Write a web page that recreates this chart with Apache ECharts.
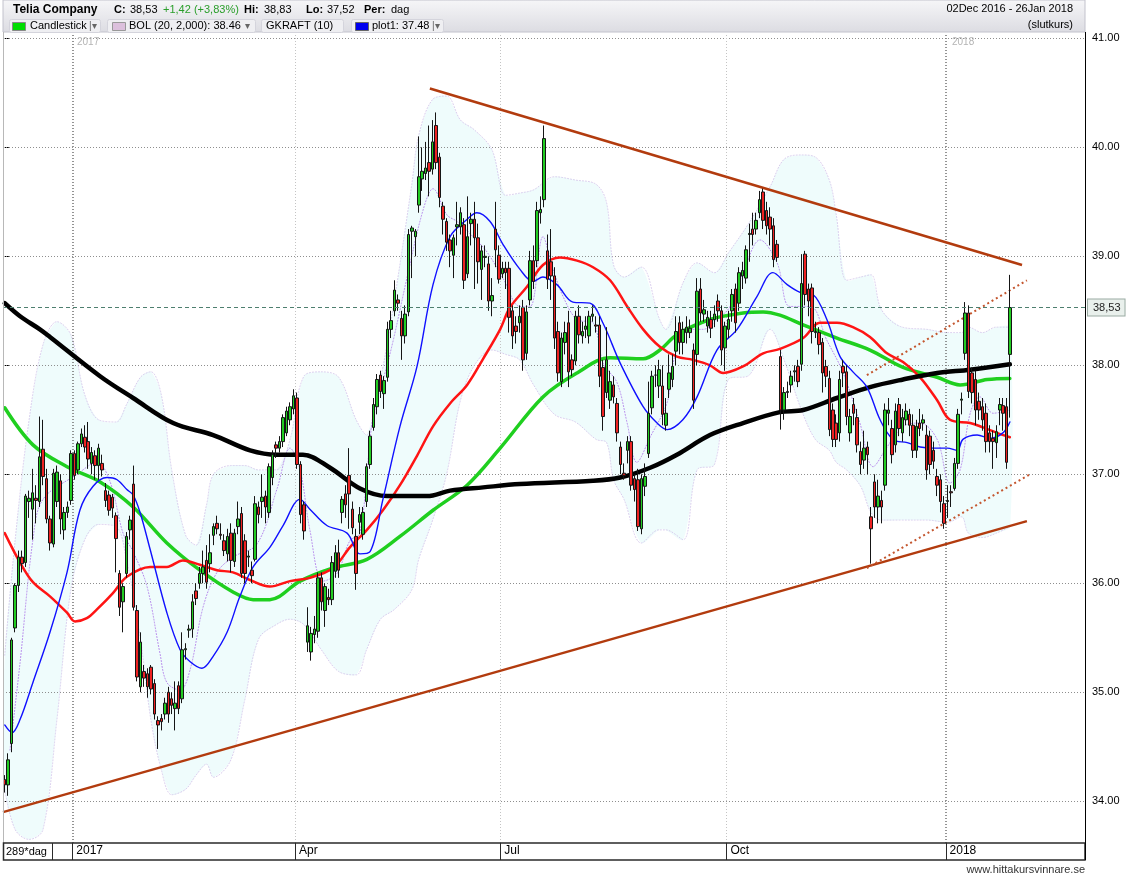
<!DOCTYPE html>
<html><head><meta charset="utf-8">
<script src="https://cdn.jsdelivr.net/npm/echarts@6/dist/echarts.min.js"></script>
<style>html,body{margin:0;padding:0;background:#fff}#c{width:1130px;height:874px}</style>
</head><body><div id="c"></div>
<script>
// ---- data ----
const nSlots = 311;                       // trading-day slots on the time axis (290 used)
const monthStarts = [20, 84, 143, 208, 271];
const monthLabels = ['2017', 'Apr', 'Jul', 'Oct', '2018'];
const yTicks = [34, 35, 36, 37, 38, 39, 40, 41];
const lastClose = 38.53;

// [open, close, low, high] per trading day, 02 Dec 2016 .. 26 Jan 2018
const ohlc = [
[34.20,34.15,34.08,34.24],[34.15,34.38,34.05,34.44],[34.53,35.48,34.45,35.50],[35.59,35.98,35.55,36.00],[35.98,36.24,35.92,36.30],
[36.24,36.18,36.10,36.30],[36.19,36.80,36.15,36.82],[36.75,36.78,36.60,36.85],[36.68,36.83,36.40,37.05],[36.78,36.76,36.55,36.90],
[36.75,37.16,36.70,37.53],[37.23,36.98,36.90,37.50],[36.96,36.59,36.55,37.05],[36.59,36.37,36.30,36.62],[36.36,37.01,36.33,37.05],
[36.75,37.02,36.70,37.08],[36.94,36.59,36.45,37.00],[36.49,36.65,36.40,36.70],[36.65,36.70,36.60,36.75],[36.76,37.19,36.72,37.22],
[37.19,36.99,36.95,37.22],[37.04,37.28,37.00,37.30],[37.28,37.37,37.25,37.42],[37.34,37.25,37.20,37.45],[37.30,37.14,37.05,37.48],
[37.10,37.20,37.00,37.25],[37.17,37.08,36.95,37.22],[37.08,37.24,36.95,37.28],[37.10,37.04,36.98,37.18],[36.85,36.76,36.70,36.92],
[36.81,36.67,36.62,36.85],[36.79,36.69,36.60,36.82],[36.62,36.41,36.10,36.65],[36.09,35.78,35.70,36.12],[35.83,35.97,35.55,36.00],
[36.09,36.43,36.05,36.47],[36.49,36.58,36.40,36.62],[36.91,35.78,35.75,37.08],[35.75,35.14,35.10,35.80],[35.05,35.46,35.00,35.55],
[35.19,35.13,35.05,35.25],[35.17,35.05,34.95,35.22],[35.23,35.03,34.98,35.25],[35.08,34.80,34.75,35.12],[34.74,34.70,34.48,34.78],
[34.76,34.73,34.65,34.80],[34.80,34.90,34.75,34.95],[35.00,34.80,34.72,35.05],[34.94,34.88,34.80,35.00],[34.85,34.90,34.65,35.10],
[35.06,34.85,34.80,35.10],[34.94,35.39,34.90,35.55],[35.39,35.40,35.30,35.45],[35.57,35.58,35.50,35.62],[35.58,35.83,35.50,35.90],
[35.93,35.86,35.80,36.00],[36.00,36.09,35.95,36.15],[36.09,36.15,36.00,36.30],[36.21,36.01,35.95,36.35],[36.18,36.28,36.10,36.45],
[36.44,36.52,36.35,36.55],[36.55,36.50,36.45,36.62],[36.45,36.44,36.40,36.55],[36.39,36.30,36.25,36.45],[36.27,36.43,36.20,36.50],
[36.46,36.21,36.10,36.55],[36.20,36.46,36.15,36.50],[36.52,36.59,36.45,36.75],[36.64,36.09,36.05,36.70],[36.39,36.09,36.00,36.45],
[36.24,36.25,36.15,36.30],[36.12,36.07,36.00,36.20],[36.22,36.73,36.20,36.80],[36.70,36.63,36.55,36.75],[36.75,36.79,36.60,37.00],
[36.80,36.70,36.55,36.85],[36.65,37.07,36.60,37.10],[36.97,37.18,36.90,37.22],[37.27,37.24,37.15,37.30],[37.24,37.30,37.20,37.35],
[37.30,37.52,37.25,37.55],[37.38,37.58,37.35,37.62],[37.50,37.62,37.45,37.66],[37.60,37.72,37.55,37.78],[37.70,37.09,37.05,37.75],
[37.09,36.63,36.55,37.12],[36.72,36.48,36.40,36.75],[35.46,35.61,35.37,35.78],[35.37,35.54,35.29,35.60],[35.53,35.58,35.45,35.70],
[35.56,36.05,35.50,36.10],[36.05,35.83,35.75,36.10],[35.75,35.97,35.60,36.00],[35.87,35.85,35.80,35.95],[35.85,36.19,35.80,36.25],
[36.11,36.28,36.05,36.35],[36.28,36.12,36.05,36.40],[36.65,36.77,36.55,36.80],[36.82,36.72,36.60,36.90],[36.99,36.82,36.50,37.24],
[36.68,36.51,36.45,36.75],[36.43,36.09,35.94,36.50],[36.56,36.63,36.45,36.70],[36.45,36.65,36.40,36.70],[36.75,37.07,36.70,37.10],
[37.09,37.35,37.05,37.40],[37.43,37.64,37.40,37.70],[37.62,37.87,37.55,37.92],[37.91,37.76,37.70,37.95],[37.74,37.86,37.60,37.90],
[37.89,38.33,37.85,38.40],[38.33,38.41,38.25,38.50],[38.50,38.69,38.45,38.78],[38.60,38.57,38.50,38.65],[38.43,38.27,38.05,38.50],
[38.27,38.47,38.20,38.55],[38.49,39.20,38.45,39.25],[39.23,39.26,38.80,39.28],[39.18,39.23,39.00,39.25],[39.47,39.73,39.40,40.10],
[39.71,39.78,39.60,40.00],[39.76,39.81,39.70,40.05],[39.86,39.78,39.55,40.20],[39.80,40.05,39.75,40.25],[40.20,39.86,39.80,40.32],
[39.91,39.54,39.45,39.95],[39.46,39.34,39.20,39.50],[39.32,39.13,39.05,39.35],[39.15,39.05,38.90,39.20],[39.01,39.17,38.80,39.20],
[39.27,39.29,39.10,39.50],[39.27,39.40,39.20,39.45],[39.29,38.78,38.70,39.35],[38.84,39.18,38.80,39.55],[39.30,39.34,39.10,39.40],
[39.34,39.17,38.70,39.50],[39.17,38.95,38.75,39.30],[38.88,39.05,38.60,39.10],[38.99,39.00,38.90,39.10],[38.93,38.59,38.50,39.00],
[38.59,38.64,38.45,38.80],[39.25,39.06,38.90,39.50],[39.01,38.79,38.75,39.10],[38.84,38.89,38.80,38.95],[38.89,38.85,38.70,38.95],
[38.89,38.44,38.30,38.95],[38.50,38.27,38.15,38.55],[38.36,38.31,38.20,38.45],[38.39,38.45,38.30,38.55],[38.53,38.05,37.95,38.60],
[38.11,38.49,38.05,38.55],[38.60,38.96,38.55,39.05],[38.96,38.77,38.70,39.10],[38.96,39.42,38.90,39.50],[39.40,39.43,39.30,39.55],
[39.52,40.08,39.45,40.20],[39.05,38.79,38.70,39.20],[38.95,38.82,38.60,39.25],[38.82,38.25,38.15,38.90],[38.31,37.93,37.85,38.40],
[37.85,38.25,37.80,38.30],[38.21,38.30,38.10,38.40],[38.39,37.94,37.80,38.50],[38.05,37.96,37.90,38.10],[38.04,38.45,38.00,38.50],
[38.45,38.28,38.20,38.55],[38.27,38.31,38.20,38.40],[38.33,38.36,38.25,38.45],[38.27,38.45,38.20,38.50],[38.45,38.47,38.40,38.55],
[38.37,38.36,38.30,38.45],[38.37,37.90,37.80,38.45],[37.98,37.53,37.40,38.05],[37.75,38.05,37.70,38.35],[37.68,37.85,37.60,37.95],
[37.82,37.71,37.65,37.90],[37.65,37.38,37.30,37.70],[37.25,37.09,37.00,37.30],[37.01,36.99,36.95,37.10],[37.22,37.30,37.10,37.35],
[37.30,36.90,36.85,37.35],[36.96,36.86,36.75,37.00],[36.95,36.52,36.48,37.05],[36.50,36.96,36.45,37.00],[36.89,36.98,36.80,37.10],
[37.19,37.56,37.15,37.85],[37.61,37.90,37.55,37.95],[37.91,37.91,37.80,38.00],[37.81,37.96,37.70,38.05],[37.81,37.55,37.45,38.00],
[37.45,37.56,37.40,37.70],[37.78,37.93,37.70,38.10],[37.87,37.99,37.80,38.10],[38.13,38.31,38.00,38.45],[38.39,38.21,38.10,38.45],
[38.21,38.33,38.10,38.40],[38.30,38.35,38.20,38.45],[38.30,38.34,38.25,38.42],[38.14,37.68,37.60,38.20],[38.10,38.68,38.00,38.80],
[38.70,38.48,38.40,38.80],[38.47,38.51,38.40,38.60],[38.36,38.44,38.30,38.50],[38.42,38.34,38.25,38.50],[38.42,38.47,38.35,38.55],
[38.59,38.50,38.40,38.65],[38.50,38.14,38.00,38.55],[38.16,38.36,37.95,38.40],[38.33,38.42,38.25,38.50],[38.50,38.65,38.40,38.70],
[38.70,38.39,38.30,38.75],[38.57,38.85,38.50,38.90],[38.82,38.87,38.70,38.95],[38.80,39.06,38.75,39.10],[39.20,39.21,38.95,39.30],
[39.25,39.20,39.10,39.40],[39.25,39.33,39.20,39.40],[39.40,39.52,39.35,39.60],[39.59,39.33,39.25,39.62],[39.42,39.28,39.20,39.50],
[39.36,39.25,39.10,39.45],[39.28,38.97,38.90,39.35],[39.11,38.99,38.95,39.15],[38.08,37.59,37.41,38.14],[37.59,37.75,37.50,37.80],
[37.75,37.76,37.70,37.85],[37.82,37.90,37.75,37.95],[37.94,37.95,37.85,38.00],[37.99,37.85,37.80,38.05],[38.01,38.75,37.95,39.02],
[39.02,38.65,38.55,39.05],[38.70,38.59,38.45,38.75],[38.71,38.31,38.20,38.75],[38.30,38.31,38.25,38.40],[38.30,38.19,38.10,38.35],
[38.21,37.93,37.75,38.25],[37.99,37.90,37.80,38.05],[37.88,37.41,37.35,37.95],[37.59,37.32,37.25,37.65],[37.47,37.32,37.25,37.55],
[37.38,37.87,37.30,37.95],[37.99,37.93,37.80,38.05],[37.94,37.53,37.45,38.00],[37.38,37.53,37.30,37.60],[37.64,37.56,37.45,37.70],
[37.52,37.27,37.20,37.60],[37.21,37.09,37.00,37.30],[37.13,37.24,37.05,37.40],[37.25,37.18,37.00,37.30],[36.61,36.50,36.18,36.70],
[36.93,36.70,36.60,37.00],[36.70,36.80,36.55,36.95],[36.76,36.70,36.55,36.85],[36.90,37.59,36.85,37.65],[37.56,37.59,37.45,37.70],
[37.42,37.18,37.10,37.50],[37.27,37.58,37.20,37.65],[37.64,37.42,37.35,37.70],[37.38,37.52,37.30,37.60],[37.50,37.58,37.45,37.65],
[37.55,37.45,37.35,37.60],[37.45,37.22,37.15,37.55],[37.22,37.44,37.15,37.50],[37.47,37.42,37.35,37.60],[37.47,37.50,37.40,37.55],
[37.36,37.04,36.95,37.45],[37.35,37.09,37.00,37.40],[37.22,37.12,37.05,37.30],[36.98,36.90,36.80,37.05],[36.95,36.75,36.65,37.00],
[36.73,36.55,36.50,36.80],[36.75,36.76,36.60,36.90],[36.84,36.83,36.70,36.90],[36.87,37.10,36.85,37.15],[37.10,37.55,37.05,37.60],
[37.68,37.69,37.55,37.75],[38.11,38.48,38.05,38.58],[38.48,37.76,37.70,38.55],[37.93,37.75,37.65,37.98],[37.87,37.59,37.45,37.95],
[37.67,37.59,37.50,37.75],[37.62,37.50,37.40,37.70],[37.56,37.30,37.20,37.65],[37.38,37.30,37.20,37.45],[37.33,37.30,37.05,37.40],
[37.29,37.39,37.15,37.45],[37.59,37.64,37.45,37.70],[37.63,37.56,37.40,37.70],[37.62,37.11,37.05,37.70],[38.10,38.53,37.52,38.83]
];

// indicator lines: [day index, value]
const ma200 = [[0,38.57],[4.4,38.45],[10.1,38.33],[13,38.26],[27.4,37.90],[36.9,37.70],[48.4,37.47],[59.9,37.36],[70.5,37.22],[78.3,37.18],[85.7,37.18],[93.5,37.06],[102.1,36.87],[109.9,36.80],[121.4,36.80],[128,36.85],[137.5,36.88],[148.1,36.91],[169.1,36.94],[176.9,36.97],[185.5,37.06],[193.2,37.18],[202.7,37.36],[212.2,37.47],[222.8,37.57],[229.5,37.59],[239.2,37.70],[248.7,37.80],[258.2,37.87],[268,37.93],[277.5,37.96],[288.9,38.01]];
const ma100 = [[0,37.61],[8.1,37.27],[17.9,37.07],[27.4,36.93],[36.9,36.70],[46.6,36.37],[56.1,36.12],[65.6,35.92],[71.4,35.85],[76.2,35.85],[84.9,36.02],[94.4,36.14],[104.1,36.22],[113.6,36.43],[123.1,36.67],[132.9,36.90],[142.4,37.24],[154.7,37.71],[164.5,37.93],[174,38.07],[183.5,38.06],[188.3,38.14],[193.2,38.28],[202.7,38.42],[212.2,38.48],[218,38.49],[222.8,38.46],[229.5,38.37],[239.2,38.25],[248.7,38.14],[258.2,37.98],[268,37.89],[274.6,37.82],[282.4,37.87],[288.9,37.88]];
const ma50 = [[0,36.46],[4.4,36.19],[8.1,36.01],[13,35.88],[17.9,35.73],[20.2,35.65],[23.6,35.68],[26.5,35.76],[31.1,35.91],[35.1,36.06],[41.8,36.15],[46.6,36.15],[51.2,36.21],[56.1,36.17],[61,36.12],[65.6,36.10],[70.5,36.03],[76.2,35.97],[82,36.02],[87.7,36.05],[94.4,36.14],[99.2,36.33],[104.1,36.49],[108.7,36.67],[113.6,36.90],[118.5,37.17],[123.1,37.44],[128,37.65],[132.9,37.82],[137.5,38.06],[142.4,38.33],[145.2,38.53],[150.1,38.72],[154.7,38.92],[159.6,38.99],[164.5,38.96],[169.1,38.90],[174,38.78],[178.9,38.54],[183.5,38.33],[188.3,38.17],[193.2,38.08],[197.8,38.05],[202.7,38.00],[206.5,37.93],[212.2,37.99],[218,38.11],[222.8,38.15],[229.5,38.25],[234.3,38.39],[239.2,38.39],[243.8,38.35],[248.7,38.26],[253.6,38.11],[258.2,38.03],[263.1,37.89],[268,37.68],[271.7,37.50],[277.5,37.47],[281.2,37.43],[285.2,37.38],[288.9,37.34]];
const plot1 = [[0,34.70],[2.1,34.63],[4.4,34.75],[8.1,35.09],[13,35.55],[17.9,36.10],[21.6,36.67],[25.4,36.89],[29.4,36.97],[32.3,36.95],[35.1,36.86],[36.9,36.81],[38.9,36.65],[41.8,36.31],[46.6,35.73],[50.4,35.39],[53.3,35.28],[56.7,35.22],[59.9,35.33],[63.9,35.55],[67.6,35.88],[71.4,36.15],[76.2,36.33],[80,36.53],[84.9,36.77],[87.7,36.68],[92.6,36.53],[98.4,36.46],[102.1,36.27],[105,36.29],[108.7,36.77],[113.6,37.44],[118.5,37.99],[123.1,38.74],[128,39.18],[132.9,39.34],[135.7,39.40],[139.5,39.32],[143.2,39.11],[148.1,38.88],[151.8,38.77],[154.7,38.81],[158.7,38.74],[163.3,38.58],[168.2,38.57],[171.9,38.39],[176.9,38.02],[183.5,37.62],[187.5,37.47],[190.4,37.41],[194.9,37.50],[199,37.71],[204.7,38.14],[210.5,38.33],[216.2,38.63],[220.8,38.85],[224.9,38.74],[228.6,38.67],[232.3,38.65],[236.3,38.42],[240.1,38.08],[243.8,37.94],[247.8,37.80],[251.6,37.50],[255.3,37.32],[259.4,37.29],[263.1,37.25],[266.9,37.24],[270.9,37.24],[273.8,37.22],[275.4,37.32],[279.5,37.36],[283.2,37.33],[286.9,37.38],[288.9,37.48]];
const bolMid = [[1.5,34.47],[4.4,35.27],[8.1,36.40],[11,36.77],[20.8,37.00],[26.5,37.11],[30.3,36.93],[34,36.46],[36.9,36.29],[40.9,35.97],[44.6,35.36],[46.6,35.09],[50.4,35.02],[53.3,35.21],[57,35.78],[61,36.10],[65.6,36.24],[72.5,36.36],[78.3,36.87],[82,37.24],[84.9,37.04],[87.7,36.49],[91.5,36.02],[95.5,36.09],[99.2,36.39],[102.1,36.46],[105.9,37.55],[108.7,37.86],[111.6,38.22],[115.6,38.80],[120.2,39.42],[123.1,39.62],[127.1,39.38],[130,39.32],[134.6,39.18],[138.6,39.04],[143.2,38.80],[148.1,38.54],[151,38.54],[154.7,39.18],[157.6,38.88],[160.5,38.63],[164.5,38.42],[169.1,38.39],[172,38.02],[176,37.84],[178.9,37.47],[181.7,37.11],[185.5,37.34],[190.4,37.66],[192.1,38.02],[196.1,38.33],[200.7,38.33],[204.7,38.42],[208.5,38.54],[212.2,38.85],[217.1,39.15],[222,38.94],[225.7,38.54],[231.5,38.54],[236.3,38.23],[241,37.93],[245.8,37.47],[249.6,37.07],[253.6,37.25],[258.2,37.44],[263.1,37.47],[268,37.32],[271.7,36.92],[274.6,37.04],[277.5,37.56],[280.3,37.71],[284.1,37.56],[288.9,37.59]];

// Bollinger band envelope
const bandIdx   = [0,3,7,11,15,19,23,27,32,35,39,42,45,48,52,55,58,60,65,69,73,78,82,86,91,96,101,104,108,112,117,119,123,127,131,135,140,144,148,152,158,164,170,173,175,178,183,188,190,195,199,204,208,214,220,224,229,233,237,239,242,246,249,252,258,265,271,275,277,281,285,289];
const bandUpper = [35.34,36.40,37.50,38.19,38.40,38.28,37.73,37.50,37.48,37.64,37.89,37.94,37.73,37.04,36.44,36.35,36.72,37.00,37.08,37.08,37.04,37.04,37.32,37.90,37.94,37.89,37.50,37.36,37.87,38.60,39.66,40.11,40.44,40.47,40.25,40.16,39.98,39.56,39.58,39.61,39.73,39.70,39.66,39.49,38.92,38.81,38.90,38.44,38.33,38.76,38.94,38.85,39.03,39.31,39.64,39.89,39.93,39.91,39.70,39.38,38.78,38.81,38.83,38.51,38.35,38.33,38.30,38.30,38.35,38.30,38.35,38.35];
const bandLower = [34.11,33.74,33.65,33.74,34.75,35.94,36.40,36.54,36.52,36.22,35.49,34.75,34.29,34.06,34.11,34.24,34.34,34.22,34.38,34.93,35.49,35.62,35.67,35.62,35.39,35.19,35.16,35.39,35.67,35.76,35.94,36.22,36.58,37.00,37.68,38.00,38.14,38.10,38.05,37.82,37.55,37.48,37.32,37.29,36.95,36.77,36.37,36.49,36.49,36.40,37.04,37.09,37.87,37.91,38.33,38.05,37.59,37.32,37.22,37.11,37.04,36.89,36.65,36.58,36.58,36.58,36.56,36.61,36.46,36.42,36.46,36.52];

// hand-drawn trend lines (endpoints)
const trendUpper   = [[122.2,40.54],[292.4,38.92]];
const trendLower   = [[-0.5,33.90],[293.8,36.57]];
const channelUpper = [[247.8,37.91],[293.8,38.78]];
const channelLower = [[247.8,36.14],[294.7,37.00]];

// ---- chart ----
const FONT = '"Liberation Sans", Arial, sans-serif';
const cats = [];
for (let i = 0; i < nSlots; i++) cats.push(String(i));
const isStart = (idx) => monthStarts.indexOf(idx) >= 0;

const chart = echarts.init(document.getElementById('c'), null, {renderer: 'canvas'});

function txt(x, y, s, opt) {
  opt = opt || {};
  return {type: 'text', x: x, y: y, silent: true, z: 10,
    style: {text: s, font: (opt.bold ? 'bold ' : '') + (opt.size || 11) + 'px ' + FONT,
      fill: opt.color || '#000', align: opt.align || 'left', textAlign: opt.align || 'left',
      verticalAlign: 'middle', textVerticalAlign: 'middle'}};
}
function box(x, y, w, h, fill, stroke, r) {
  return {type: 'rect', silent: true, z: 9, shape: {x: x, y: y, width: w, height: h, r: r || 0},
    style: {fill: fill, stroke: stroke || null, lineWidth: 1}};
}

const graphics = [
  // header panel
  {type: 'rect', silent: true, z: 8, shape: {x: 3, y: 0, width: 1082, height: 32},
   style: {fill: {type: 'linear', x: 0, y: 0, x2: 0, y2: 1, colorStops: [{offset: 0, color: '#f6f6f8'}, {offset: 1, color: '#dcdce2'}]}, stroke: '#c2c2cc', lineWidth: 1}},
  txt(13, 9.5, 'Telia Company', {bold: true, size: 12}),
  txt(114, 9.5, 'C:', {bold: true}), txt(130, 9.5, '38,53'),
  txt(163, 9.5, '+1,42 (+3,83%)', {color: '#2a9e2a'}),
  txt(244, 9.5, 'Hi:', {bold: true}), txt(264, 9.5, '38,83'),
  txt(306, 9.5, 'Lo:', {bold: true}), txt(327, 9.5, '37,52'),
  txt(364, 9.5, 'Per:', {bold: true}), txt(391, 9.5, 'dag'),
  txt(1073, 9, '02Dec 2016 - 26Jan 2018', {align: 'right'}),
  txt(1073, 24.5, '(slutkurs)', {align: 'right'}),
  // legend buttons
  box(9.5, 19.5, 91, 13, '#efeff2', '#d4d4dc', 2),
  box(12.5, 22.5, 13, 8, '#00dd00', '#888'),
  txt(30, 26, 'Candlestick'), txt(89, 26, '|\u25BE', {color: '#666', size: 10}),
  box(107.5, 19.5, 148, 13, '#efeff2', '#d4d4dc', 2),
  box(112.5, 22.5, 13, 8, '#dcc0dc', '#999'),
  txt(129, 26, 'BOL (20, 2,000): 38.46'), txt(245, 26, '\u25BE', {color: '#666', size: 10}),
  box(261.5, 19.5, 82, 13, '#efeff2', '#d4d4dc', 2),
  txt(266, 26, 'GKRAFT (10)'),
  box(351.5, 19.5, 92, 13, '#efeff2', '#d4d4dc', 2),
  box(355.5, 22.5, 13, 8, '#0000ee', '#666'),
  txt(372, 26, 'plot1: 37.48'), txt(432, 26, '|\u25BE', {color: '#666', size: 10}),
  // plot frame: left edge, bottom bar
  {type: 'line', silent: true, z: 9, shape: {x1: 3.5, y1: 32, x2: 3.5, y2: 860}, style: {stroke: '#b8b8b8', lineWidth: 1}},
  {type: 'rect', silent: true, z: 9, shape: {x: 3.5, y: 843, width: 1081.5, height: 17}, style: {fill: null, stroke: '#2a2a2a', lineWidth: 1.5}},
  {type: 'line', silent: true, z: 9, shape: {x1: 52.5, y1: 843, x2: 52.5, y2: 860}, style: {stroke: '#2a2a2a', lineWidth: 1}},
  txt(6, 851.5, '289*dag', {size: 11}),
  {type: 'line', silent: true, z: 9, shape: {x1: 1085.5, y1: 32, x2: 1085.5, y2: 860}, style: {stroke: '#000', lineWidth: 1}},
  txt(1085, 869.5, 'www.hittakursvinnare.se', {align: 'right', size: 11, color: '#333'}),
  // faint year captions in the plot
  txt(77, 42, '2017', {size: 10, color: '#b4b4b4'}),
  txt(952, 42, '2018', {size: 10, color: '#b4b4b4'})
];

const vGrid = monthStarts.map((s, k) => {
  const year = (monthLabels[k] === '2017' || monthLabels[k] === '2018');
  return {xAxis: s - 0.5, lineStyle: year ? {color: '#7a7a7a', type: [1, 2], width: 1.6} : {color: '#c4c4c4', type: [1, 2], width: 1}};
});
const hGrid = yTicks.map(v => ({yAxis: v}));

function lineSeries(name, data, color, width, z, type) {
  return {name: name, type: 'line', xAxisIndex: 1, yAxisIndex: 0, data: data, smooth: 0.35,
    showSymbol: false, symbol: 'none', silent: true, z: z,
    lineStyle: {color: color, width: width, type: type || 'solid', cap: 'round', join: 'round'}};
}
function segSeries(name, data, color, width, type) {
  return {name: name, type: 'line', xAxisIndex: 1, yAxisIndex: 0, data: data, smooth: false,
    showSymbol: false, symbol: 'none', silent: true, z: 5,
    lineStyle: {color: color, width: width, type: type || 'solid'}};
}

const upperEdge = lineSeries('BOL upper', bandIdx.map((x, k) => [x, bandUpper[k]]), '#d9cdee', 1, 2, [1, 2]);
upperEdge.markLine = {symbol: 'none', silent: true, z: 2, animation: false, label: {show: false},
  lineStyle: {color: '#8e8e8e', type: [1, 2], width: 1},
  data: hGrid.concat(vGrid)};

const option = {
  animation: false,
  backgroundColor: '#ffffff',
  grid: {left: 3, right: 45, top: 33, bottom: 31, containLabel: false},
  xAxis: [
    {type: 'category', data: cats, boundaryGap: true, position: 'bottom',
     axisLine: {show: false},
     axisTick: {show: true, interval: (i) => isStart(i), length: 17, lineStyle: {color: '#2a2a2a', width: 1}},
     axisLabel: {show: true, interval: (i) => isStart(i), formatter: (v, i) => monthLabels[monthStarts.indexOf(i)] || '',
       align: 'left', margin: 2, padding: [0, 0, 0, 2], fontSize: 12, color: '#000', fontFamily: FONT},
     splitLine: {show: false}},
    {type: 'value', min: -0.5, max: nSlots - 0.5, show: false, splitLine: {show: false}}
  ],
  yAxis: {type: 'value', position: 'right', min: 33.617, max: 41.049, scale: true,
    axisLine: {show: false},
    axisTick: {show: true, customValues: yTicks, length: 4, lineStyle: {color: '#000'}},
    axisLabel: {show: true, customValues: yTicks, formatter: (v) => v.toFixed(2), margin: 7, fontSize: 11, color: '#000', fontFamily: FONT},
    splitLine: {show: false}},
  graphic: graphics,
  series: [
    {name: 'BOL band', type: 'custom', xAxisIndex: 1, yAxisIndex: 0, z: 1, silent: true, data: [[0, 37]],
     renderItem: function (params, api) {
       const pts = [];
       for (let k = 0; k < bandIdx.length; k++) pts.push(api.coord([bandIdx[k], bandUpper[k]]));
       for (let k = bandIdx.length - 1; k >= 0; k--) pts.push(api.coord([bandIdx[k], bandLower[k]]));
       return {type: 'polygon', shape: {points: pts, smooth: 0.25}, style: {fill: '#effcfc', stroke: null}};
     }},
    upperEdge,
    lineSeries('BOL lower', bandIdx.map((x, k) => [x, bandLower[k]]), '#d9cdee', 1, 2, [1, 2]),
    lineSeries('BOL mid', bolMid, '#b586ec', 1, 3, [1, 2]),
    lineSeries('MA100', ma100, '#1fcf1f', 3.5, 4),
    lineSeries('MA50', ma50, '#ff1414', 2.5, 4),
    lineSeries('MA200', ma200, '#000000', 4.5, 4),
    lineSeries('plot1', plot1, '#1010ff', 1.4, 4),
    segSeries('Trend upper', trendUpper, '#b23b0e', 2.5),
    segSeries('Trend lower', trendLower, '#b23b0e', 2.5),
    segSeries('Channel upper', channelUpper, '#c4562e', 2, [2, 3]),
    segSeries('Channel lower', channelLower, '#c4562e', 2, [2, 3]),
    {name: 'Candlestick', type: 'candlestick', xAxisIndex: 0, yAxisIndex: 0, data: ohlc, z: 6,
     barWidth: 3, silent: true,
     itemStyle: {color: '#22cc22', color0: '#ee2222', borderColor: '#151515', borderColor0: '#151515', borderWidth: 1},
     markLine: {symbol: 'none', silent: true, z: 7, animation: false,
       data: [{yAxis: lastClose}],
       lineStyle: {color: '#4e7f6f', type: [4, 3], width: 1},
       label: {show: true, position: 'end', distance: 3, formatter: '38,53', color: '#222', fontSize: 11, fontFamily: FONT,
         backgroundColor: '#e9f0ec', borderColor: '#9aaba3', borderWidth: 1, padding: [3, 4, 2, 5]}}}
  ]
};
chart.setOption(option);
</script>
</body></html>
